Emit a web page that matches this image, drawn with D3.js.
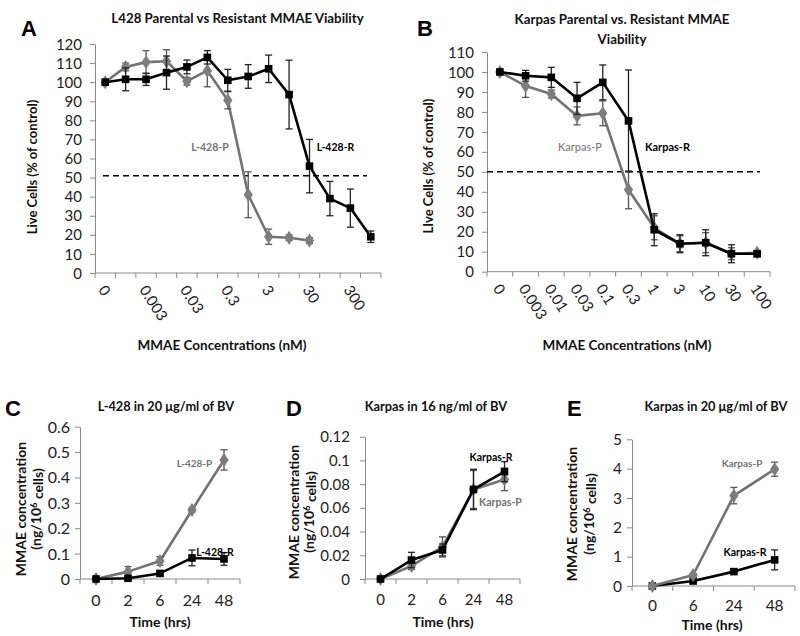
<!DOCTYPE html>
<html><head><meta charset="utf-8">
<script src="https://cdn.jsdelivr.net/npm/d3@7"></script>
<style>body{margin:0;background:#fff}</style>
</head><body><svg id="c" width="800" height="636"></svg>
<script>
// ---------------- DATA ----------------
const catsA = ["0","0.001","0.003","0.01","0.03","0.1","0.3","1","3","10","30","100","300","1000"];
const tickLabelsA = ["0","0.003","0.03","0.3","3","30","300"];
const aParental = [100,108,110.5,111,100.5,106,90.5,41,19,18.5,17];
const aParentalErr = [0,2,6,6,2,8.4,4.5,12,4,1.5,1.5];
const aResistant = [100,101.5,101.5,105,108,113,101,103,107,93.5,56,39,34,19];
const aResistantErr = [0,6,3.2,8.7,3.6,3.5,5.7,6.2,7.2,18,14,9,10,3];
const aThreshold = 51;

const catsB = ["0","0.003","0.01","0.03","0.1","0.3","1","3","10","30","100"];
const tickLabelsB = catsB;
const bParental = [100,93,89,78,79.3,41,22,14,14.5,9,9.5];
const bParentalErr = [0,5.7,2,4.5,6.2,9.5,6,4,5,3,1];
const bResistant = [100,98.1,97.3,86.8,94.8,75.5,21,14,14.5,9,9];
const bResistantErr = [0,2.7,5,8,8.7,25.5,8,4.5,6.5,4.5,1.5];
const bThreshold = 50;

const timesCD = ["0","2","6","24","48"];
const cParental = [0,0.029,0.071,0.272,0.469];
const cParentalErr = [0,0.02,0.017,0.008,0.04];
const cResistant = [0,0.003,0.022,0.083,0.079];
const cResistantErr = [0,0.003,0.004,0.031,0.025];

const dParental = [0,0.011,0.027,0.0755,0.084];
const dParentalErr = [0,0.003,0.0085,0.016,0.0095];
const dResistant = [0,0.016,0.0245,0.0755,0.0905];
const dResistantErr = [0,0.0065,0.005,0.017,0.0085];

const timesE = ["0","6","24","48"];
const eParental = [0,0.375,3.08,3.98];
const eParentalErr = [0,0.05,0.28,0.24];
const eResistant = [0,0.17,0.49,0.89];
const eResistantErr = [0,0.03,0.05,0.34];

// ---------------- STYLE ----------------
const FONT = "Lato, 'Open Sans', sans-serif";
const GRAY = "#737373", GRAYM = "#7d7d7d", BLACK = "#000";
const AXIS = "#8a8a8a";
const svg = d3.select("#c");
svg.append("rect").attr("width",800).attr("height",636).attr("fill","#fff");

function txt(x, y, s, o = {}) {
  const t = svg.append("text").attr("x", x).attr("y", y)
    .attr("font-family", o.family || FONT).attr("font-size", o.fs || 13)
    .attr("font-weight", o.w || "bold").attr("fill", o.fill || "#111")
    .attr("text-anchor", o.anchor || "middle");
  if (o.rot) t.attr("transform", `rotate(${o.rot},${x},${y})`).attr("dy", "0.35em");
  t.text(s);
  return t;
}

function drawPanel(p) {
  const g = svg.append("g");
  const x = d3.scaleBand().domain(p.cats).range([p.x0, p.x1]);
  const y = d3.scaleLinear().domain([0, p.ymax]).range([p.y0, p.yTop]);
  const cx = c => x(c) + x.bandwidth() / 2;

  // y axis
  const yt = d3.range(0, Math.round(p.ymax / p.step) + 1).map(i => +(i * p.step).toFixed(4));
  const ya = d3.axisLeft(y).tickValues(yt).tickSize(5).tickSizeOuter(0)
    .tickPadding(p.tickPad).tickFormat(p.fmt);
  const yg = g.append("g").attr("transform", `translate(${p.x0},0)`).call(ya);
  yg.select(".domain").attr("stroke", AXIS);
  yg.selectAll(".tick line").attr("stroke", AXIS);
  yg.selectAll(".tick text").attr("font-family", FONT).attr("font-size", p.tickFs)
    .attr("fill", "#222").attr("dy", "0.34em");

  // x axis line + boundary ticks
  g.append("line").attr("x1", p.x0).attr("x2", p.x1).attr("y1", y(0)).attr("y2", y(0))
    .attr("stroke", AXIS);
  const bounds = p.cats.map(c => x(c)).concat([p.x1]);
  g.selectAll(".xt").data(bounds).join("line")
    .attr("x1", d => d).attr("x2", d => d).attr("y1", y(0)).attr("y2", y(0) + 5)
    .attr("stroke", AXIS);

  // x tick labels
  p.cats.forEach(c => {
    if (!p.labels.includes(c)) return;
    if (p.rotLabels) {
      const lx = cx(c) - 3, ly = y(0) + 14;
      g.append("text").attr("x", lx).attr("y", ly).attr("dy", "0.35em")
        .attr("transform", `rotate(57,${lx},${ly})`)
        .attr("font-family", FONT).attr("font-size", p.tickFs).attr("fill", "#222")
        .text(c);
    } else {
      g.append("text").attr("x", cx(c)).attr("y", y(0) + p.xLabOff)
        .attr("text-anchor", "middle")
        .attr("font-family", FONT).attr("font-size", p.tickFs).attr("fill", "#222")
        .text(c);
    }
  });

  // threshold
  if (p.threshold != null) {
    g.append("line").attr("x1", p.x0 + p.thrL).attr("x2", p.x1 - p.thrR)
      .attr("y1", y(p.threshold)).attr("y2", y(p.threshold))
      .attr("stroke", "#000").attr("stroke-width", 1.5).attr("stroke-dasharray", "6,4");
  }

  // series
  p.series.forEach(s => {
    const pts = s.values.map((v, i) => ({ c: p.cats[i], v, e: s.err[i] }));
    g.append("path").datum(pts)
      .attr("d", d3.line().x(d => cx(d.c)).y(d => y(d.v)))
      .attr("fill", "none").attr("stroke", s.color).attr("stroke-width", 2.6)
      .attr("stroke-linejoin", "round");
    const eb = g.append("g").attr("stroke", s.errColor).attr("stroke-width", 1.3);
    pts.filter(d => d.e > 0).forEach(d => {
      const X = cx(d.c), t = y(d.v + d.e), b = y(d.v - d.e);
      eb.append("line").attr("x1", X).attr("x2", X).attr("y1", t).attr("y2", b);
      eb.append("line").attr("x1", X - 3.5).attr("x2", X + 3.5).attr("y1", t).attr("y2", t);
      eb.append("line").attr("x1", X - 3.5).attr("x2", X + 3.5).attr("y1", b).attr("y2", b);
    });
    const sym = d3.symbol().type(s.shape === "square" ? d3.symbolSquare : d3.symbolDiamond)
      .size(s.shape === "square" ? 58 : 56);
    g.selectAll(null).data(pts).join("path")
      .attr("transform", d => `translate(${cx(d.c)},${y(d.v)})` + (s.shape === "diamond" ? " scale(1.15,1)" : ""))
      .attr("d", sym).attr("fill", s.mColor);
  });
}

const intFmt = d => String(d);
const decFmt = d => d === 0 ? "0" : String(+d.toFixed(2));

// Panel A
drawPanel({ cats: catsA, labels: tickLabelsA, rotLabels: true, x0: 95, x1: 381, y0: 273, yTop: 44,
  ymax: 120, step: 10, fmt: intFmt, tickFs: 15, tickPad: 8, threshold: aThreshold, thrL: 8, thrR: 14,
  series: [
    { values: aParental, err: aParentalErr, color: GRAY, mColor: GRAYM, errColor: "#555", shape: "diamond" },
    { values: aResistant, err: aResistantErr, color: BLACK, mColor: BLACK, errColor: "#222", shape: "square" }
  ] });
// Panel B
drawPanel({ cats: catsB, labels: tickLabelsB, rotLabels: true, x0: 487, x1: 770, y0: 271.7, yTop: 52,
  ymax: 110, step: 10, fmt: intFmt, tickFs: 15, tickPad: 8, threshold: bThreshold, thrL: 0, thrR: 10,
  series: [
    { values: bParental, err: bParentalErr, color: GRAY, mColor: GRAYM, errColor: "#555", shape: "diamond" },
    { values: bResistant, err: bResistantErr, color: BLACK, mColor: BLACK, errColor: "#222", shape: "square" }
  ] });
// Panel C
drawPanel({ cats: timesCD, labels: timesCD, rotLabels: false, x0: 80, x1: 240, y0: 579, yTop: 426.7,
  ymax: 0.6, step: 0.1, fmt: decFmt, tickFs: 16, tickPad: 5, xLabOff: 27,
  series: [
    { values: cParental, err: cParentalErr, color: GRAY, mColor: GRAYM, errColor: "#555", shape: "diamond" },
    { values: cResistant, err: cResistantErr, color: BLACK, mColor: BLACK, errColor: "#222", shape: "square" }
  ] });
// Panel D
drawPanel({ cats: timesCD, labels: timesCD, rotLabels: false, x0: 365, x1: 520, y0: 579, yTop: 436.7,
  ymax: 0.12, step: 0.02, fmt: decFmt, tickFs: 15, tickPad: 10, xLabOff: 26,
  series: [
    { values: dParental, err: dParentalErr, color: GRAY, mColor: GRAYM, errColor: "#555", shape: "diamond" },
    { values: dResistant, err: dResistantErr, color: BLACK, mColor: BLACK, errColor: "#222", shape: "square" }
  ] });
// Panel E
drawPanel({ cats: timesE, labels: timesE, rotLabels: false, x0: 632, x1: 795, y0: 586, yTop: 439.3,
  ymax: 5, step: 1, fmt: intFmt, tickFs: 15.5, tickPad: 5, xLabOff: 25,
  series: [
    { values: eResistant, err: eResistantErr, color: BLACK, mColor: BLACK, errColor: "#222", shape: "square" },
    { values: eParental, err: eParentalErr, color: GRAY, mColor: GRAYM, errColor: "#555", shape: "diamond" }
  ] });

// ---------------- TEXT ----------------
const LET = { family: "'Liberation Sans', Arial, sans-serif", fs: 22, w: "bold", fill: "#000", anchor: "start" };
txt(21, 36, "A", LET); txt(417, 36, "B", LET);
txt(5, 416, "C", LET); txt(286, 416, "D", LET); txt(567, 416, "E", LET);

txt(237.5, 23, "L428 Parental vs Resistant MMAE Viability", { fs: 13.3 });
txt(622, 24, "Karpas Parental vs. Resistant MMAE", { fs: 13.3 });
txt(622, 44, "Viability", { fs: 13.3 });
txt(166, 411, "L-428 in 20 μg/ml of BV", { fs: 12.8 });
txt(436, 411, "Karpas in 16 ng/ml of BV", { fs: 12.8 });
txt(716, 411, "Karpas in 20 μg/ml of BV", { fs: 12.8 });

txt(32, 167, "Live Cells (% of control)", { fs: 13, rot: -90 });
txt(428, 166, "LIve Cells (% of control)", { fs: 13, rot: -90 });
txt(222, 350, "MMAE Concentrations (nM)", { fs: 13.5 });
txt(627, 350, "MMAE Concentrations (nM)", { fs: 13.5 });

function yTitle2(x1, x2, cy) {
  txt(x1, cy, "MMAE concentration", { fs: 14, rot: -90 });
  const t = svg.append("text").attr("x", x2).attr("y", cy).attr("dy", "0.35em")
    .attr("transform", `rotate(-90,${x2},${cy})`).attr("text-anchor", "middle")
    .attr("font-family", FONT).attr("font-size", 14).attr("font-weight", "bold").attr("fill", "#111");
  t.append("tspan").text("(ng/10");
  t.append("tspan").attr("dy", "-0.45em").attr("font-size", 9.5).text("6");
  t.append("tspan").attr("dy", "0.45em").text(" cells)");
}
yTitle2(21, 36, 509); yTitle2(294, 309, 512); yTitle2(572, 589, 514);

txt(160, 627, "Time (hrs)", { fs: 14 });
txt(443, 627, "Time (hrs)", { fs: 14 });
txt(712, 630, "Time (hrs)", { fs: 14 });

// series labels
txt(210, 151, "L-428-P", { fs: 10.5, fill: GRAY });
txt(335.5, 151, "L-428-R", { fs: 10.5, fill: "#000" });
txt(580, 151, "Karpas-P", { fs: 11, w: "normal", fill: GRAY });
txt(667.5, 151, "Karpas-R", { fs: 11, fill: "#000" });
txt(194.5, 467, "L-428-P", { fs: 10, fill: GRAY });
txt(215, 556, "L-428-R", { fs: 10.5, fill: "#000" });
txt(491, 461, "Karpas-R", { fs: 10.5, fill: "#000" });
txt(500.5, 506, "Karpas-P", { fs: 10.5, fill: GRAY });
txt(742, 467, "Karpas-P", { fs: 10, fill: GRAY });
txt(745, 556, "Karpas-R", { fs: 10.5, fill: "#000" });
</script></body></html>
